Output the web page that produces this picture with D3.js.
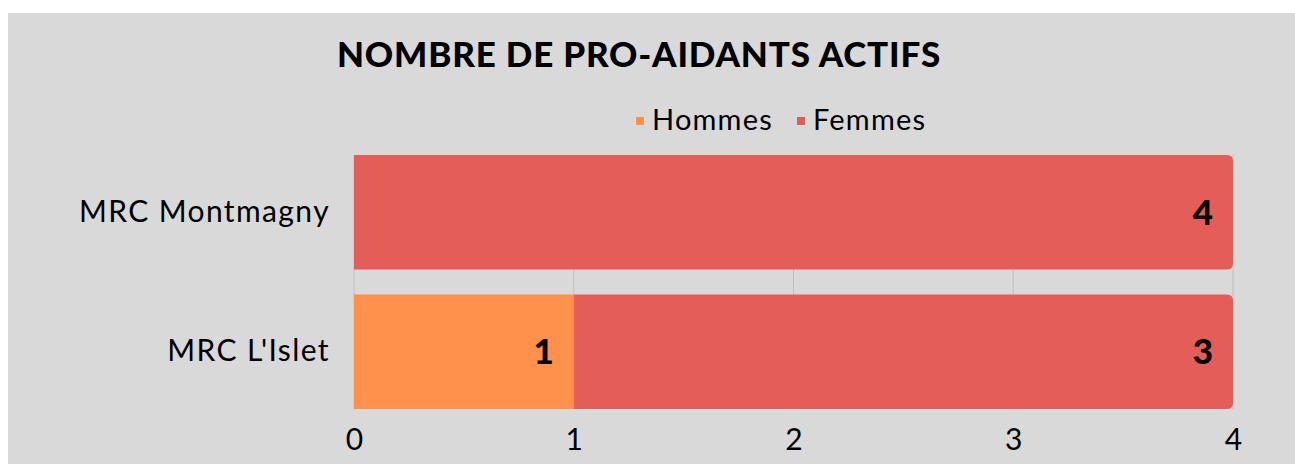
<!DOCTYPE html>
<html>
<head>
<meta charset="utf-8">
<script src="https://cdn.jsdelivr.net/npm/d3@7"></script>
<style>
  body { margin: 0; background: #fff; }
  text { font-family: Lato, "Noto Sans", sans-serif; }
</style>
</head>
<body>
<div id="vis"></div>
<script>
const categories = ["MRC Montmagny", "MRC L'Islet"];
const seriesNames = ["Hommes", "Femmes"];
const hommes = [0, 1];
const femmes = [4, 3];
const xTicks = [0, 1, 2, 3, 4];
const colors = ["#FF914D", "#E35E58"];

const width = 1295, height = 464;
const svg = d3.select("#vis").append("svg")
  .attr("width", width)
  .attr("height", height);

// grey chart background
svg.append("rect")
  .attr("x", 8).attr("y", 13)
  .attr("width", width - 8).attr("height", height - 13)
  .attr("fill", "#D9D9D9");

const x = d3.scaleLinear().domain([0, 4]).range([354, 1233]);
const y = d3.scaleBand().domain(categories).range([155, 409]).paddingInner(0.18);

// gridlines
svg.append("g")
  .selectAll("line")
  .data(xTicks)
  .join("line")
  .attr("x1", d => x(d)).attr("x2", d => x(d))
  .attr("y1", 155).attr("y2", 409)
  .attr("stroke", "#BFBFBF")
  .attr("stroke-width", 1);

// stacked data
const rows = categories.map((c, i) => ({ cat: c, Hommes: hommes[i], Femmes: femmes[i] }));
const stacked = d3.stack().keys(seriesNames)(rows);

const r = 6;
function barPath(x0, x1, y0, h, rounded) {
  if (!rounded) return `M${x0},${y0}H${x1}V${y0 + h}H${x0}Z`;
  return `M${x0},${y0}H${x1 - r}Q${x1},${y0} ${x1},${y0 + r}V${y0 + h - r}Q${x1},${y0 + h} ${x1 - r},${y0 + h}H${x0}Z`;
}

stacked.forEach((s, si) => {
  svg.append("g")
    .selectAll("path")
    .data(s.filter(d => d[1] > d[0]))
    .join("path")
    .attr("d", d => barPath(x(d[0]), x(d[1]), y(d.data.cat), y.bandwidth(), si === 1))
    .attr("fill", colors[si]);

  svg.append("g")
    .selectAll("text")
    .data(s.filter(d => d[1] > d[0]))
    .join("text")
    .attr("x", d => x(d[1]) - 20)
    .attr("y", d => y(d.data.cat) + y.bandwidth() / 2)
    .attr("dy", "0.36em")
    .attr("text-anchor", "end")
    .attr("font-size", 35)
    .attr("font-weight", 900)
    .attr("fill", "#000")
    .text(d => d[1] - d[0]);
});

// x axis labels
const xAxis = svg.append("g")
  .attr("transform", "translate(0,409)")
  .call(d3.axisBottom(x).tickValues(xTicks).tickSize(0).tickPadding(20).tickFormat(d3.format("d")));
xAxis.select(".domain").remove();
xAxis.selectAll("text")
  .attr("font-size", 30)
  .attr("font-family", "Lato, sans-serif")
  .attr("fill", "#000");

// y axis labels
const yAxis = svg.append("g")
  .attr("transform", "translate(354,0)")
  .call(d3.axisLeft(y).tickSize(0).tickPadding(24));
yAxis.select(".domain").remove();
yAxis.selectAll("text")
  .attr("font-size", 30)
  .attr("letter-spacing", 1.4)
  .attr("font-family", "Lato, sans-serif")
  .attr("fill", "#000");

// title
svg.append("text")
  .attr("x", 639).attr("y", 67)
  .attr("text-anchor", "middle")
  .attr("font-size", 35)
  .attr("font-weight", 900)
  .attr("letter-spacing", 0.8)
  .attr("fill", "#000")
  .text("NOMBRE DE PRO-AIDANTS ACTIFS");

// legend
const legendX = [636, 797];
const legend = svg.append("g");
seriesNames.forEach((n, i) => {
  legend.append("rect")
    .attr("x", legendX[i]).attr("y", 117)
    .attr("width", 8).attr("height", 8)
    .attr("fill", colors[i]);
  legend.append("text")
    .attr("x", legendX[i] + 16).attr("y", 120)
    .attr("dy", "0.36em")
    .attr("font-size", 29)
    .attr("letter-spacing", 1.2)
    .attr("fill", "#000")
    .text(n);
});
</script>
</body>
</html>
